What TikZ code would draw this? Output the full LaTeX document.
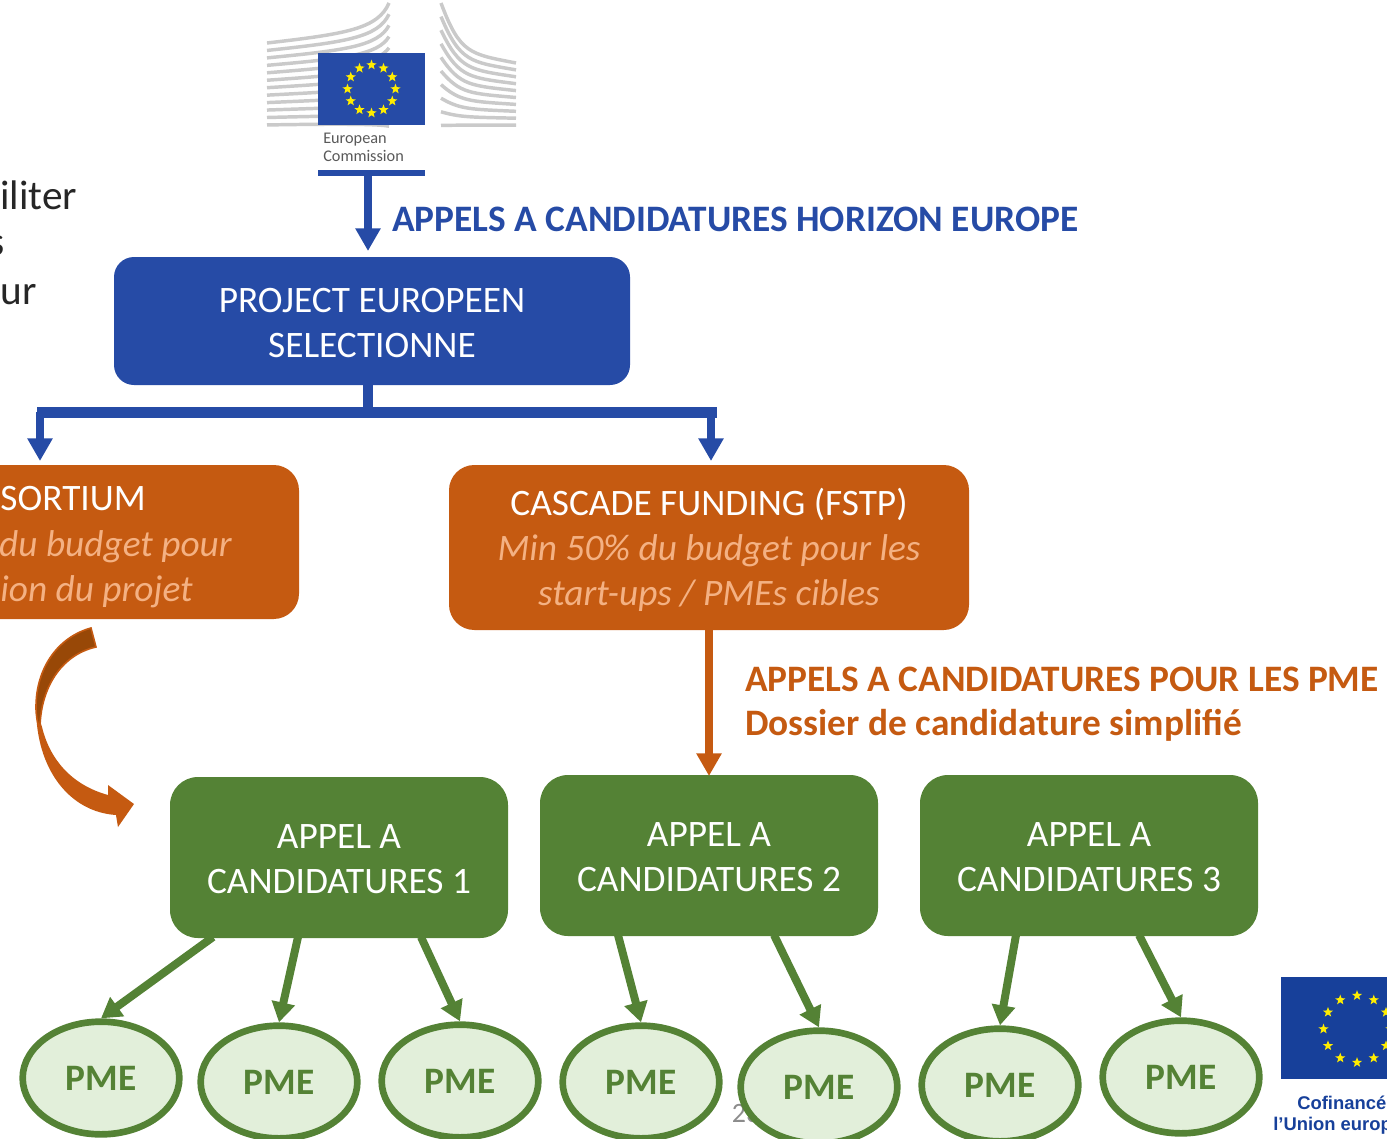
\documentclass[tikz,border=0pt]{standalone}
\usepackage{fontspec}
\setmainfont{Carlito}
\newfontfamily\libsans{Liberation Sans}
\usetikzlibrary{arrows.meta,shapes.geometric,calc}
\newcommand\toppad{\rule{0pt}{20.5pt}}
\definecolor{eublue}{HTML}{264BA6}
\definecolor{flagblue}{HTML}{17409A}
\definecolor{euorange}{HTML}{C55A11}
\definecolor{darkorange}{HTML}{984807}
\definecolor{peach}{HTML}{F4B183}
\definecolor{eugreen}{HTML}{548235}
\definecolor{palegreen}{HTML}{E2EFDA}
\definecolor{stargold}{HTML}{FFED00}
\definecolor{bldgrey}{HTML}{CACACA}
\tikzset{
  x=0.75pt,y=-0.75pt,
  boxbase/.style={rectangle,text=white,align=center,inner sep=0pt,
    font=\fontsize{28}{33.75}\selectfont},
  bluebox/.style={boxbase,rounded corners=15pt,fill=eublue,minimum width=387pt,minimum height=96pt},
  orangebox/.style={boxbase,rounded corners=19pt,fill=euorange,minimum height=123.75pt},
  greenbox/.style={boxbase,rounded corners=21pt,fill=eugreen,minimum width=253.5pt,minimum height=120.75pt},
  pmenode/.style={ellipse,draw=eugreen,line width=5pt,fill=palegreen,minimum width=117.5pt,minimum height=84.5pt,
    inner sep=0pt,text=eugreen,font=\fontsize{28}{30}\selectfont\bfseries},
  bluearrow/.style={draw=eublue,line width=6.5pt,-{Triangle[length=17pt,width=18pt]}},
  orangearrow/.style={draw=euorange,line width=6.5pt,-{Triangle[length=17pt,width=18pt]}},
  greenarrow/.style={draw=eugreen,line width=6pt,-{Triangle[length=15pt,width=17pt]}},
  heading/.style={anchor=west,inner sep=0pt,font=\fontsize{28}{33.75}\selectfont\bfseries},
  cuttext/.style={anchor=east,inner sep=0pt,text=black!85,font=\fontsize{31}{36}\selectfont},
  itpeach/.style={text=peach,font=\fontsize{28}{33.75}\selectfont\itshape},
  flagstar/.style={star,star points=5,star point ratio=2.4,fill=stargold,inner sep=0pt,minimum size=8pt},
  bldline/.style={draw=bldgrey,line width=2.6pt},
}
\begin{document}
\begin{tikzpicture}
\useasboundingbox (0,0) rectangle (1387,1138);
\clip (0,0) rectangle (1387,1138);
% cut-off text at left
\node[cuttext] (t1) at (77.5,195) {iliter};
\node[cuttext] (t2) at (5,246) {s};
\node[cuttext] (t3) at (37,295) {ur};
% EC logo
\foreach \k in {0,...,11}{
  \pgfmathsetmacro\ya{43+7.45*\k}
  \pgfmathsetmacro\yb{3+11.2*\k}
  \draw[bldline] (267,\ya) .. controls (345,\ya-9+0.7*\k) and (378,\ya-14+1.2*\k) .. (389,\yb);
}
\foreach \k in {0,...,9}{
  \pgfmathsetmacro\yc{3+13.6*\k}
  \pgfmathsetmacro\yd{63+6.9*\k}
  \draw[bldline] (441,\yc) .. controls (460,\yc+0.85*\yd-0.85*\yc) and (470,\yd-9+\k) .. (516,\yd);
}
\node[fill=eublue,minimum width=80.25pt,minimum height=54pt,inner sep=0pt] (ecflag) at (371.5,89) {};
\foreach \a in {0,30,...,330}{
  \node[flagstar] (ecs\a) at ($(371.5,89)+(\a:24)$) {};
}
\node[anchor=west,inner sep=0pt,align=left,text=black!65,font=\fontsize{12.2}{13.5}\selectfont] (ectext) at (323,147) {European\\Commission};
\node[fill=eublue,minimum width=80.25pt,minimum height=4.5pt,inner sep=0pt] (ecbar) at (371.5,173) {};
% headings
\node[heading,text=eublue] (h1) at (392,219) {APPELS A CANDIDATURES HORIZON EUROPE};
\node[heading,text=euorange] (h2) at (745,679) {APPELS A CANDIDATURES POUR LES PME};
\node[heading,text=euorange] (h3) at (745,725) {Dossier de candidature simplifié};
% boxes
\node[bluebox] (project) at (372,321) {\toppad PROJECT EUROPEEN\\SELECTIONNE};
\node[boxbase,rounded corners=19pt,fill=euorange,minimum width=269.25pt,minimum height=115.5pt] (consort) at (119.5,542) {};
\node[anchor=east,inner sep=0pt,text=white,font=\fontsize{28}{33.75}\selectfont] (c1) at (146,499) {SORTIUM};
\node[anchor=east,inner sep=0pt,itpeach] (c2) at (232,547) {du budget pour};
\node[anchor=east,inner sep=0pt,itpeach] (c3) at (193,592) {ion du projet};
\node[orangebox,minimum width=390pt] (cascade) at (709,547.5) {};
\node[boxbase,anchor=center] (cascadetxt) at (709,550) {CASCADE FUNDING (FSTP)\\{\color{peach}\itshape Min 50\% du budget pour les}\\{\color{peach}\itshape start-ups / PMEs cibles}};
\node[greenbox] (cand1) at (339,857.5) {\toppad APPEL A\\CANDIDATURES 1};
\node[greenbox] (cand2) at (709,855.5) {\toppad APPEL A\\CANDIDATURES 2};
\node[greenbox] (cand3) at (1089,855.5) {\toppad APPEL A\\CANDIDATURES 3};
% page number
\node[inner sep=0pt,text=black!45,font=\fontsize{21}{24}\selectfont] (pageno) at (746,1113) {23};
% PME
\node[pmenode] (pme1) at (101,1078) {PME};
\node[pmenode] (pme2) at (279,1082) {PME};
\node[pmenode] (pme3) at (460,1081) {PME};
\node[pmenode] (pme4) at (641,1082) {PME};
\node[pmenode] (pme5) at (819,1087) {PME};
\node[pmenode] (pme6) at (1000,1085) {PME};
\node[pmenode] (pme7) at (1181,1077) {PME};
% connector points
\coordinate (a0) at (368,170); \coordinate (a1) at (368,251);
\coordinate (b0) at (368,385); \coordinate (b1) at (368,412);
\coordinate (bl) at (40,412); \coordinate (br) at (711,412);
\coordinate (bl2) at (40,461); \coordinate (br2) at (711,461);
\coordinate (o1) at (709,776);
\coordinate (s1) at (213,937); \coordinate (s2) at (298,937); \coordinate (s3) at (421,937);
\coordinate (s4) at (618,935); \coordinate (s5) at (774,935);
\coordinate (s6) at (1016,935); \coordinate (s7) at (1139,935);
% connectors
\draw[bluearrow] (a0) -- (a1);
\draw[draw=eublue,line width=8pt] (b0) -- (b1);
\draw[draw=eublue,line width=8pt,line cap=butt] (37,412.5) -- (717,412.5);
\draw[bluearrow] (bl) -- (bl2);
\draw[bluearrow] (br) -- (br2);
\draw[orangearrow] (cascade.south) -- (o1);
\draw[greenarrow] (s1) -- (pme1.north);
\draw[greenarrow] (s2) -- (pme2.north);
\draw[greenarrow] (s3) -- (pme3.north);
\draw[greenarrow] (s4) -- (pme4.north);
\draw[greenarrow] (s5) -- (pme5.north);
\draw[greenarrow] (s6) -- (pme6.north);
\draw[greenarrow] (s7) -- (pme7.north);
% curved arrow
\fill[euorange] (36,707) .. controls (36,770) and (70,812) .. (116,815)
  -- (118,827) -- (134,804) -- (108,785) -- (108,795)
  .. controls (72,785) and (50,760) .. (42,727) -- cycle;
\filldraw[fill=darkorange,draw=euorange,line width=1.2pt] (91,628) .. controls (58,637) and (36,668) .. (36,707)
  .. controls (36,715) and (37,722) .. (40,729) .. controls (40,690) and (60,655) .. (96,647) -- cycle;
% EU flag
\node[fill=flagblue,minimum width=90pt,minimum height=76.5pt,inner sep=0pt,anchor=north west] (euflag) at (1281,977) {};
\foreach \a in {0,30,...,330}{
  \node[flagstar] (eus\a) at ($(1357,1029)+(\a:33.5)$) {};
}
\node[anchor=west,inner sep=0pt,text=flagblue,font=\libsans\fontsize{13.8}{16}\selectfont\bfseries] (eu1) at (1297,1103) {Cofinancé};
\node[anchor=west,inner sep=0pt,text=flagblue,font=\libsans\fontsize{13.8}{16}\selectfont\bfseries] (eu2) at (1273,1126) {l’Union europ};
\end{tikzpicture}
\end{document}
